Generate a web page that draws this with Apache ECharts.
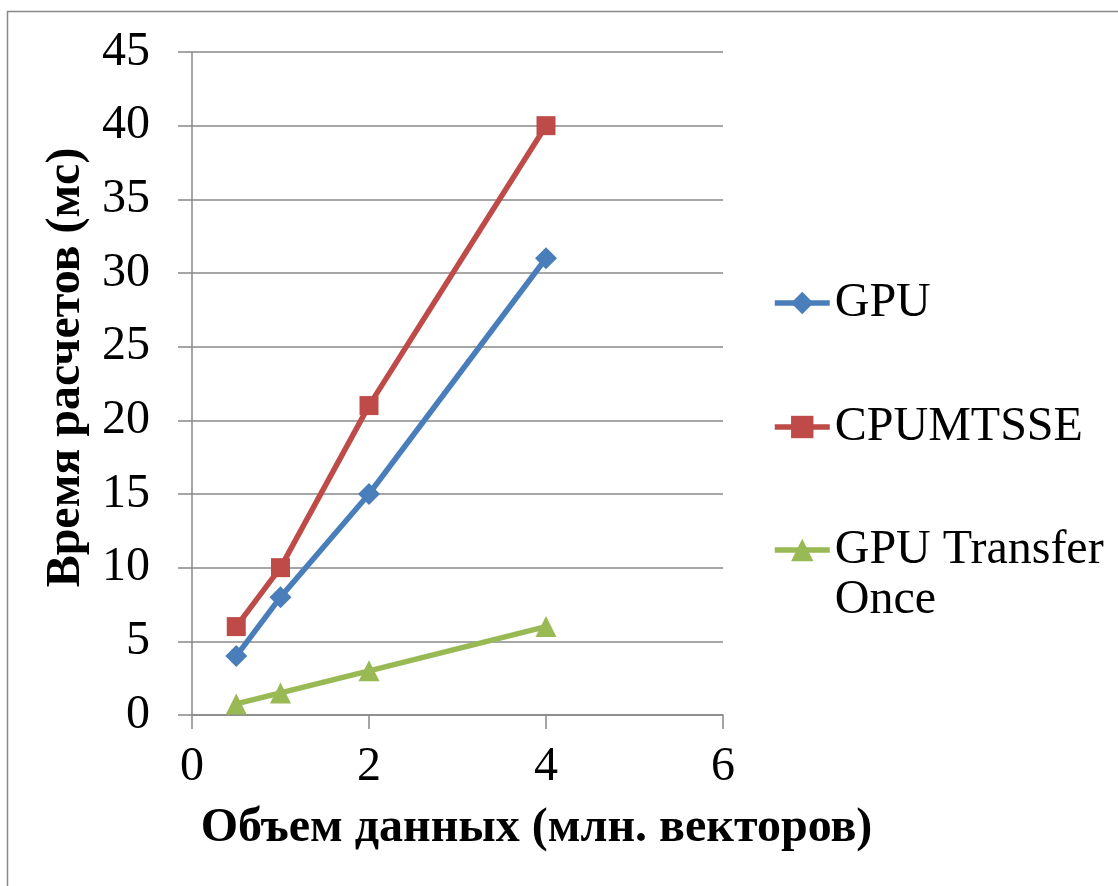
<!DOCTYPE html>
<html><head><meta charset="utf-8">
<script src="https://cdn.jsdelivr.net/npm/echarts@6/dist/echarts.min.js"></script>
<style>html,body{margin:0;padding:0;background:#fff}#c{width:1118px;height:886px}</style>
</head><body><div id="c"></div>
<script>
var xValues = [0.5, 1, 2, 4];
var gpu = [4, 8, 15, 31];
var cpumtsse = [6, 10, 21, 40];
var gpuTransferOnce = [0.75, 1.5, 3, 6];
var seriesNames = ['GPU', 'CPUMTSSE', 'GPU Transfer\nOnce'];
var xTitle = 'Объем данных (млн. векторов)';
var yTitle = 'Время расчетов (мс)';

function pts(ys){ return xValues.map(function(x,i){ return [x, ys[i]]; }); }
var font = 'Liberation Serif';
var colors = ['#4A7EBB', '#BE4B48', '#98B954'];
var legendText = {fontFamily: font, fontSize: 48, color: '#000', lineHeight: 50};

function mkSeries(name, data, color, symbol, size){
  return {type:'line', name:name, data:pts(data), symbol:symbol, symbolSize:size,
    lineStyle:{color:color, width:5.5}, itemStyle:{color:color}, showSymbol:true, animation:false};
}
function mkLegend(i, top, fmt){
  var l = {data:[seriesNames[i]], left:772, top:top, orient:'vertical', padding:0,
    itemWidth:55, itemHeight:28, textStyle:legendText, lineStyle:{width:5.5}};
  if (fmt) l.formatter = fmt;
  return l;
}

var chart = echarts.init(document.getElementById('c'));
chart.setOption({
  backgroundColor:'#fff',
  animation:false,
  graphic:[{type:'rect', shape:{x:7.5,y:11.5,width:1200,height:1000}, style:{fill:'none', stroke:'#888', lineWidth:1.5}}],
  grid:{left:192, right:395, top:52, bottom:171},
  legend:[
    mkLegend(0, 278),
    mkLegend(1, 402),
    mkLegend(2, 475, function(n){ return ' \n' + n; })
  ],
  xAxis:{type:'value', min:0, max:6, interval:2,
    name:xTitle, nameLocation:'middle', nameGap:90,
    nameTextStyle:{fontFamily:font, fontSize:48, fontWeight:'bold', color:'#000', padding:[0,0,0,158]},
    axisLine:{show:true, lineStyle:{color:'#888', width:1.5}},
    axisTick:{show:true, length:14, lineStyle:{color:'#888', width:1.5}},
    axisLabel:{fontFamily:font, fontSize:48, color:'#000', margin:28},
    splitLine:{show:false}},
  yAxis:{type:'value', min:0, max:45, interval:5,
    name:yTitle, nameLocation:'middle', nameGap:101, nameRotate:90,
    nameTextStyle:{fontFamily:font, fontSize:48, fontWeight:'bold', color:'#000', padding:[0,0,0,32]},
    axisLine:{show:true, lineStyle:{color:'#888', width:1.5}},
    axisTick:{show:true, length:14, lineStyle:{color:'#888', width:1.5}},
    axisLabel:{fontFamily:font, fontSize:48, color:'#000', margin:42},
    splitLine:{show:true, lineStyle:{color:'#888', width:1.5}}},
  series:[
    mkSeries(seriesNames[0], gpu, colors[0], 'diamond', 22),
    mkSeries(seriesNames[1], cpumtsse, colors[1], 'rect', 19),
    mkSeries(seriesNames[2], gpuTransferOnce, colors[2], 'triangle', 21)
  ]
});
</script></body></html>
